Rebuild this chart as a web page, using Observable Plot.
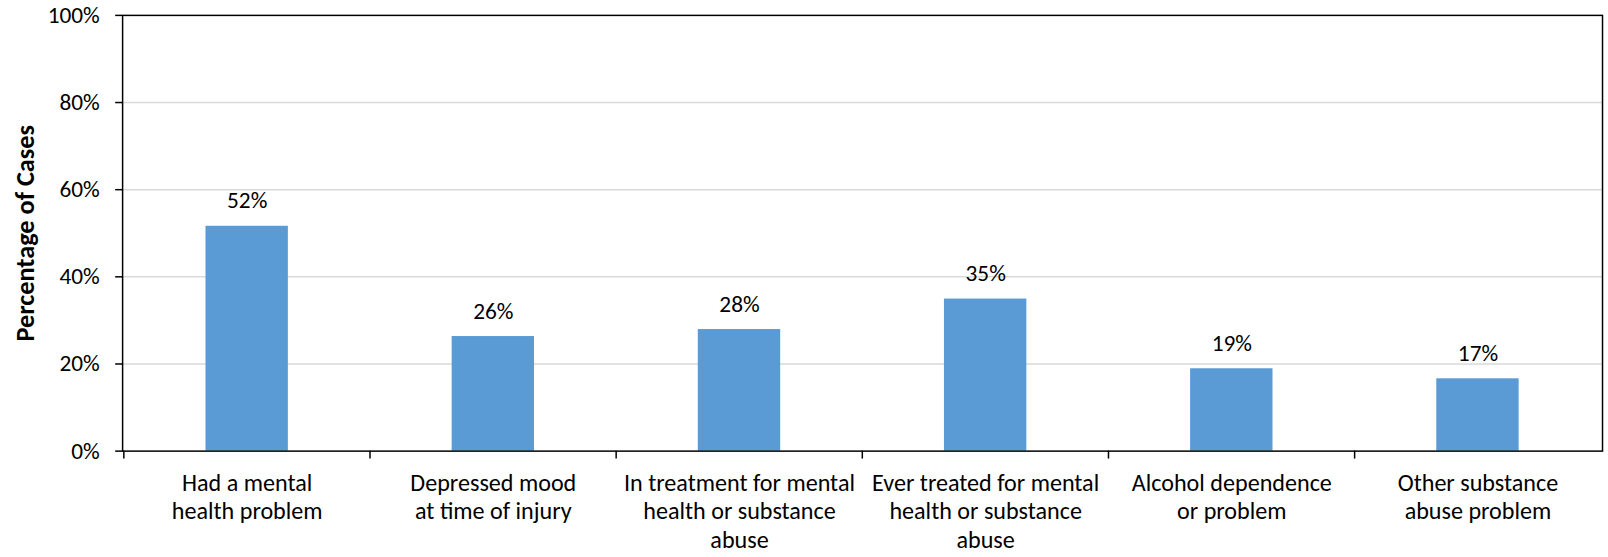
<!DOCTYPE html>
<html>
<head>
<meta charset="utf-8">
<script src="https://cdn.jsdelivr.net/npm/d3@7"></script>
<script src="https://cdn.jsdelivr.net/npm/@observablehq/plot@0.6"></script>
<style>
  html, body { margin: 0; padding: 0; background: #fff; overflow: hidden; }
  #chart svg { display: block; overflow: hidden; }
</style>
</head>
<body>
<div id="chart"></div>
<script>
const categories = [
  "Had a mental\nhealth problem",
  "Depressed mood\nat time of injury",
  "In treatment for mental\nhealth or substance\nabuse",
  "Ever treated for mental\nhealth or substance\nabuse",
  "Alcohol dependence\nor problem",
  "Other substance\nabuse problem"
];
const values = [51.6, 26.3, 27.9, 34.9, 18.9, 16.6];
const yTicks = [0, 20, 40, 60, 80, 100];
const gridTicks = [20, 40, 60, 80];
const yTitle = "Percentage of Cases";

const data = categories.map((c, i) => ({category: c, value: values[i]}));

const W = 1620, H = 557;
const mL = 123, mR = 6, mT = 15, mB = 103;
const step = (W - mL - mR) / categories.length;
const font = "Calibri, Carlito, Lato, sans-serif";
const fs = 23.5;
const fsX = 24.3;

const chart = Plot.plot({
  width: W,
  height: H,
  marginLeft: mL,
  marginRight: mR,
  marginTop: mT,
  marginBottom: mB,
  style: {fontFamily: font, fontSize: fs + "px", color: "#000", background: "#fff"},
  x: {domain: categories, paddingInner: 0.666, paddingOuter: 0.333, label: null},
  y: {domain: [0, 100], label: null},
  marks: [
    Plot.gridY(gridTicks, {stroke: "#d9d9d9", strokeOpacity: 1, strokeWidth: 1.5}),
    Plot.barY(data, {x: "category", y: "value", fill: "#5b9bd5"}),
    Plot.frame({stroke: "#000", strokeWidth: 1.5}),
    Plot.axisY({ticks: yTicks, tickSize: 7, tickPadding: 16, tickFormat: d => d + "%", fontSize: fs, stroke: "#000", strokeWidth: 1.5, label: null}),
    Plot.axisX({tickSize: 0, tickPadding: 20, lineHeight: 28.5 / fsX, fontSize: fsX, label: null}),
    Plot.ruleX(categories, {x: d => d, y1: 0, y2: 0, insetBottom: -8, dx: -step / 2, stroke: "#000", strokeWidth: 1.5}),
    Plot.text(data, {x: "category", y: "value", text: d => Math.round(d.value) + "%", dy: -18, lineAnchor: "bottom", fontSize: fs, fill: "#000"}),
    Plot.text([yTitle], {frameAnchor: "left", textAnchor: "middle", lineAnchor: "middle", dx: -98, rotate: -90, fontWeight: "bold", fontSize: 26.5, fill: "#000"})
  ]
});
document.getElementById("chart").appendChild(chart);
</script>
</body>
</html>
